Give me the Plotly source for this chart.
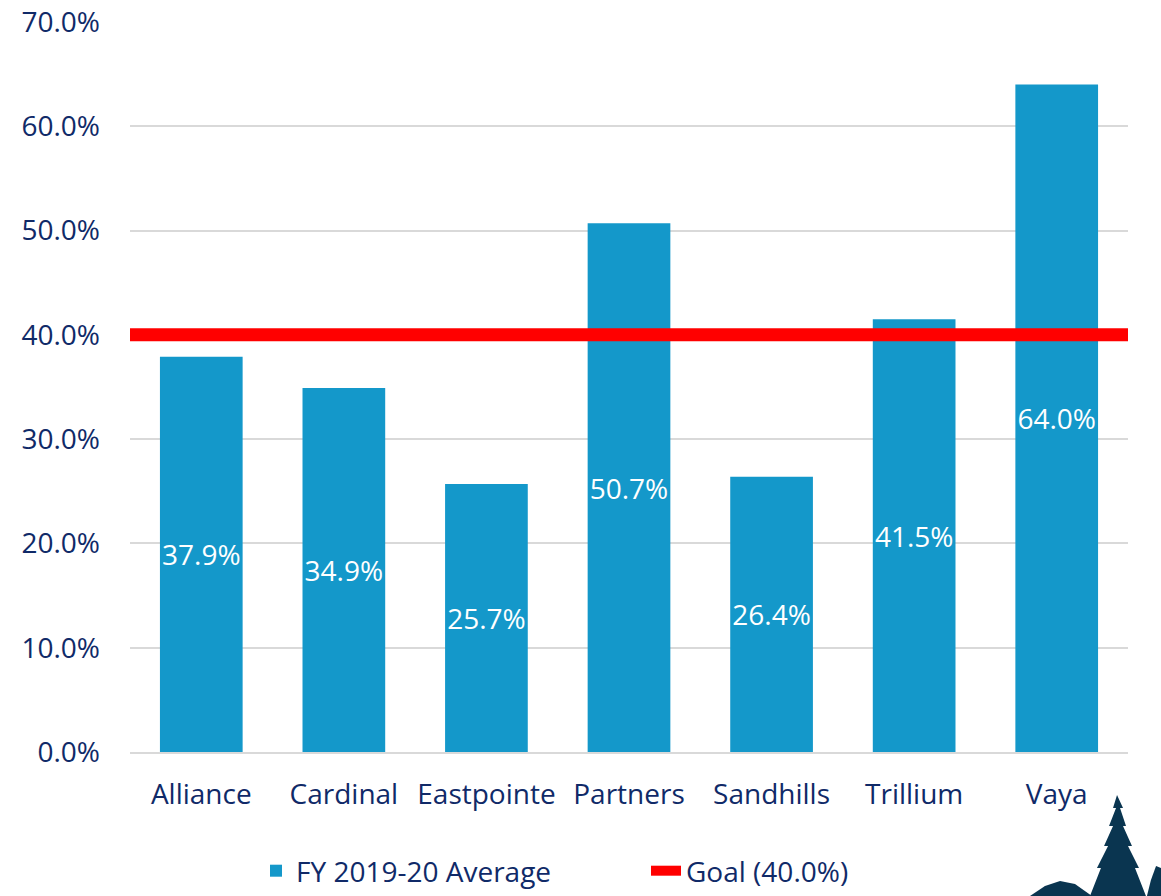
import plotly.graph_objects as go

categories = ["Alliance", "Cardinal", "Eastpointe", "Partners", "Sandhills", "Trillium", "Vaya"]
fy_values = [37.9, 34.9, 25.7, 50.7, 26.4, 41.5, 64.0]
goal_value = 40.0
series_name = "FY 2019-20 Average"
goal_name = "Goal (40.0%)"

NAVY = "#102A68"
BAR = "#1498CA"
FONT = "Open Sans"
FS = 28

W, H = 1161, 896

fig = go.Figure()
fig.add_trace(go.Bar(
    x=categories, y=fy_values, name=series_name,
    marker=dict(color=BAR, line=dict(width=0)),
    texttemplate="%{y:.1f}%", textposition="inside", insidetextanchor="middle",
    textfont=dict(color="white", size=FS, family=FONT),
    textangle=0, constraintext="none",
))

fig.add_shape(type="line", xref="paper", x0=0, x1=1, yref="y", y0=goal_value, y1=goal_value,
              line=dict(color="#FF0000", width=13), showlegend=True, name=goal_name, layer="above")

# decorative tree silhouette (page pixel -> paper coords)
L, R, T, B = 130, 1128, 22, 752
def px(x, y):
    return (x - L) / (R - L), (B - y) / (B - T)

def poly(pts):
    return "M " + " L ".join(f"{px(a, b)[0]:.4f},{px(a, b)[1]:.4f}" for a, b in pts) + " Z"

tree = [(1117, 795), (1113, 808), (1116, 808), (1109, 826), (1113, 826), (1104, 846), (1108, 846),
        (1097, 868), (1101, 868), (1090, 896), (1146, 896), (1135, 868), (1139, 868), (1128, 846),
        (1132, 846), (1123, 826), (1126, 826), (1120, 808), (1123, 808)]
hill = [(1030, 896), (1045, 886), (1060, 881), (1075, 884), (1092, 896)]
tree2 = [(1156, 866), (1151, 880), (1147, 896), (1161, 896), (1161, 868)]
for p in (tree, hill, tree2):
    fig.add_shape(type="path", xref="paper", yref="paper", path=poly(p),
                  fillcolor="#0A3550", line=dict(width=0), layer="above")

fig.update_layout(
    width=W, height=H,
    margin=dict(l=L, r=W - R, t=T, b=H - B, autoexpand=False),
    plot_bgcolor="white", paper_bgcolor="white",
    bargap=0.42,
    font=dict(family=FONT, color=NAVY, size=FS),
    yaxis=dict(range=[0, 70], dtick=10, tickformat=".1f", ticksuffix="%",
               gridcolor="#D9D9D9", gridwidth=1.5, zeroline=False, showline=False,
               ticks="", ticklabelstandoff=29, automargin=False, ticklabeloverflow="allow",
               tickfont=dict(size=FS, color=NAVY, family=FONT)),
    xaxis=dict(showline=True, linecolor="#D9D9D9", linewidth=1.5, ticks="",
               ticklabelstandoff=17, automargin=False,
               tickfont=dict(size=FS, color=NAVY, family=FONT)),
    showlegend=True,
    legend=dict(orientation="h", xref="container", yref="container",
                x=256 / W, xanchor="left", y=0, yanchor="bottom",
                font=dict(size=FS, color=NAVY, family=FONT),
                entrywidth=345, entrywidthmode="pixels", bgcolor="rgba(0,0,0,0)"),
)

fig.write_html("out.html", config={"displayModeBar": False},
               post_script="document.body.style.margin='0px';")
